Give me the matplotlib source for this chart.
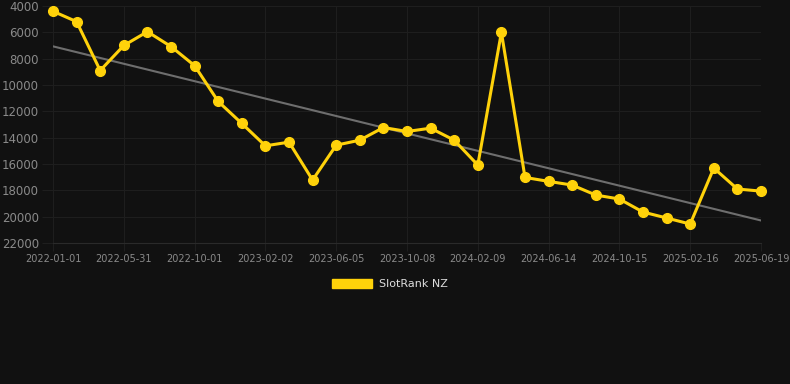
import numpy as np
import matplotlib
matplotlib.use("Agg")
import matplotlib.pyplot as plt
from matplotlib.patches import Patch

# rank values, one every ~6 weeks (category axis)
ranks = [4400, 5190, 8900, 7000, 5950, 7080, 8530, 11250, 12920, 14620,
         14340, 17220, 14570, 14190, 13230, 13530, 13280, 14190, 16080, 6000,
         17020, 17320, 17600, 18360, 18660, 19650, 20100, 20560, 16310, 17900,
         18060]

tick_labels = ["2022-01-01", "2022-05-31", "2022-10-01", "2023-02-02",
               "2023-06-05", "2023-10-08", "2024-02-09", "2024-06-14",
               "2024-10-15", "2025-02-16", "2025-06-19"]

series_name = "SlotRank NZ"

BG = "#111111"
GRID = "#1e1e1e"
GOLD = "#FFD20A"
TXT = "#8a8a8a"

x = np.arange(len(ranks))
y = np.array(ranks)

# linear trend
slope, intercept = np.polyfit(x, y, 1)
trend = slope * x + intercept

fig = plt.figure(figsize=(7.9, 3.84), dpi=100, facecolor=BG)
ax = fig.add_axes([53 / 790, 1 - 243 / 384, 708 / 790, 237 / 384])
ax.set_facecolor(BG)

ax.plot(x, trend, color="#6e6e6e", lw=1.5, zorder=2)
ax.plot(x, y, color=GOLD, lw=2.2, marker="o", ms=7,
        solid_joinstyle="miter", zorder=3, clip_on=False)

ax.set_xlim(0, len(ranks) - 1)
ax.set_ylim(22000, 4000)
ax.set_yticks(np.arange(4000, 22001, 2000))
ax.set_xticks(x[::3])
ax.set_xticklabels(tick_labels)

ax.grid(True, color=GRID, lw=0.8)
ax.set_axisbelow(True)
for s in ax.spines.values():
    s.set_visible(False)
ax.spines["bottom"].set_visible(True)
ax.spines["bottom"].set_color("#2a2a2a")
ax.spines["bottom"].set_linewidth(0.8)
ax.tick_params(axis="y", colors=GRID, labelcolor=TXT, labelsize=8.5,
               length=8, pad=2)
ax.tick_params(axis="x", colors=GRID, labelcolor=TXT, labelsize=7,
               length=6, pad=2)

handle = Patch(facecolor=GOLD, edgecolor=GOLD)
fig.legend([handle], [series_name], loc="center",
           bbox_to_anchor=(390 / 790, 1 - 284 / 384), frameon=False,
           handlelength=3.6, handleheight=0.9, handletextpad=0.6,
           labelcolor="#dddddd", fontsize=8)

fig.savefig("out.png", dpi=100, facecolor=BG)
